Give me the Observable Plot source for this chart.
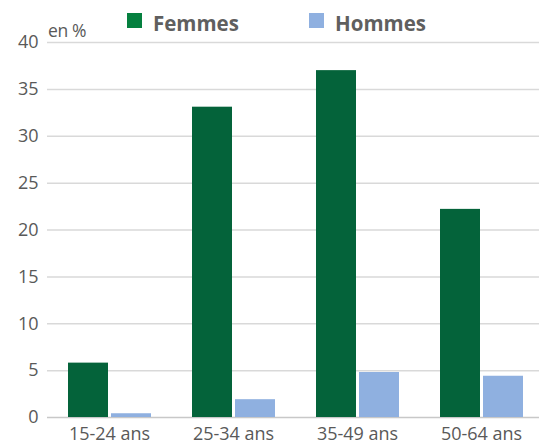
<!DOCTYPE html>
<html>
<head>
<meta charset="utf-8">
<script src="https://cdn.jsdelivr.net/npm/d3@7"></script>
<script src="https://cdn.jsdelivr.net/npm/@observablehq/plot@0.6"></script>
<style>
  html, body { margin: 0; padding: 0; background: #fff; }
  #wrap { position: relative; width: 539px; height: 446px; font-family: "Open Sans", sans-serif; overflow: hidden; }
  #legend { position: absolute; left: 0; top: 0; width: 539px; height: 40px; }
  .sw { position: absolute; width: 15px; height: 15px; top: 13px; }
  .lt { position: absolute; top: 9px; font-size: 20.5px; font-weight: bold; color: #5f5f5f; line-height: normal; }
  #unit { position: absolute; left: 48px; top: 18px; font-size: 17.5px; color: #595959; letter-spacing: -0.4px; line-height: normal; }
</style>
</head>
<body>
<div id="wrap">
  <div id="chart"></div>
  <div id="legend">
    <div class="sw" style="left:127px;background:#05803f"></div>
    <div class="lt" style="left:153px">Femmes</div>
    <div class="sw" style="left:309px;background:#8fb0e0"></div>
    <div class="lt" style="left:335px">Hommes</div>
  </div>
  <div id="unit">en %</div>
</div>
<script>
const categories = ["15-24 ans", "25-34 ans", "35-49 ans", "50-64 ans"];
const series = ["Femmes", "Hommes"];
const femmes = [5.8, 33.1, 37.0, 22.2];
const hommes = [0.4, 1.9, 4.8, 4.4];
const yTicks = [0, 5, 10, 15, 20, 25, 30, 35, 40];
const colors = ["#04633a", "#8fb0e0"];

const data = [];
categories.forEach((c, i) => {
  data.push({cat: c, sexe: series[0], v: femmes[i]});
  data.push({cat: c, sexe: series[1], v: hommes[i]});
});

const chart = Plot.plot({
  width: 539,
  height: 446,
  marginTop: 42,
  marginBottom: 29,
  marginLeft: 46,
  marginRight: 0,
  style: {fontFamily: "Open Sans, sans-serif", fontSize: "18px", color: "#595959", background: "#fff"},
  // the chart's plotting area runs a little past the right edge of the picture
  fx: {domain: categories, range: [46, 543.3], paddingInner: 0, paddingOuter: 0, label: null, axis: null},
  x: {domain: series, paddingInner: 0.075, paddingOuter: 0.45, axis: null},
  y: {domain: [0, 40], axis: null},
  color: {domain: series, range: colors},
  marks: [
    Plot.gridY(yTicks.filter(d => d > 0), {stroke: "#d9d9d9", strokeOpacity: 1, strokeWidth: 1.5}),
    Plot.ruleY([0], {stroke: "#c8c8c8", strokeWidth: 1.5}),
    Plot.axisY(yTicks, {tickSize: 0, tickPadding: 9, label: null, fontSize: 18, fill: "#595959", letterSpacing: -0.5}),
    Plot.axisFx({anchor: "bottom", tickSize: 0, tickPadding: 10, label: null, fontSize: 18, fill: "#595959", letterSpacing: -0.9}),
    Plot.barY(data, {fx: "cat", x: "sexe", y: "v", fill: "sexe"})
  ]
});
document.getElementById("chart").appendChild(chart);
</script>
</body>
</html>
